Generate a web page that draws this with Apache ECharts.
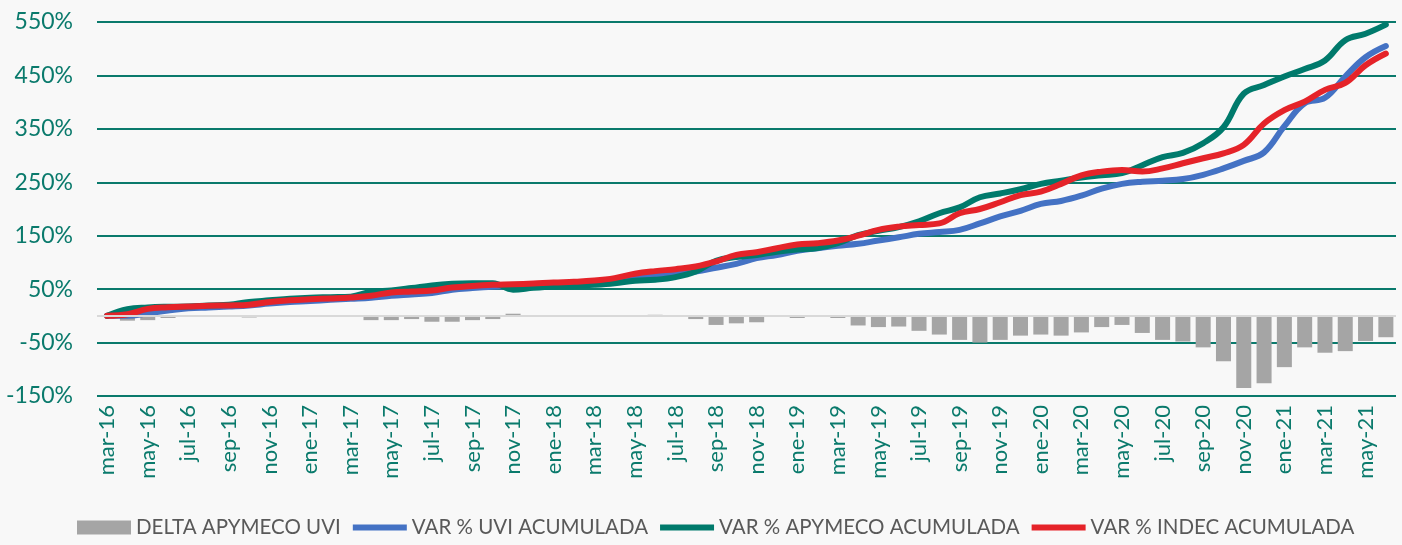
<!DOCTYPE html>
<html>
<head>
<meta charset="utf-8">
<script src="https://cdn.jsdelivr.net/npm/echarts@6/dist/echarts.min.js"></script>
<style>
  html, body { margin: 0; padding: 0; background: #f8f8f8; }
  #chart { width: 1402px; height: 545px; }
</style>
</head>
<body>
<div id="chart"></div>
<script>
// meses mar-16 .. jun-21
const months = ["ene", "feb", "mar", "abr", "may", "jun", "jul", "ago", "sep", "oct", "nov", "dic"];
const categories = [];
for (let y = 16; y <= 21; y++) {
  for (let m = 0; m < 12; m++) {
    if (y === 16 && m < 2) continue;
    if (y === 21 && m > 5) continue;
    categories.push(months[m] + "-" + y);
  }
}

const deltaApymecoUvi = [
  0, -9, -8, -4, 0, 0, -1, -3, -2, -2, -1, -1, 0, -8, -8, -6,
  -11, -11, -8, -6, 4, 1, 1, 0, 0, 0, 0, 2, 0, -6, -17, -14,
  -12, 0, -4, 0, -4, -18, -21, -20, -28, -35, -45, -50, -45, -37, -35, -37,
  -31, -21, -17, -32, -45, -48, -59, -85, -135, -126, -96, -59, -69, -66, -47, -40
];

const varUvi = [
  0, 0, 5, 10, 14, 15.7, 17.5, 19.5, 23, 25.7, 27.6, 30, 32, 34, 37.6, 40,
  42.6, 48.8, 52, 54.4, 55.7, 56.8, 58, 60, 61, 63.7, 69, 75, 80, 83, 90, 97.4,
  108, 114, 121.7, 126.7, 131, 134.8, 141, 147, 153.5, 157, 161, 173, 186, 196.5, 209.5, 215,
  225, 238, 247, 251, 253, 256, 264, 276, 290, 306, 355, 398, 408, 448, 484, 505
];

const varApymeco = [
  0, 12.5, 15.7, 17, 17.5, 19.5, 20.7, 26, 29, 32, 34, 35, 36, 45, 47.5, 52,
  57, 60, 61, 61, 49, 52.5, 55, 56, 58, 61, 65.6, 67.5, 72.5, 83, 103, 110,
  114, 120, 124, 127, 136, 151, 159, 166, 177, 192, 203, 222, 229, 237, 247, 253,
  259, 263, 267, 282, 297, 305, 323, 353, 416, 432, 448, 462, 478, 516, 528, 545
];

const varIndec = [
  0, 3, 13, 16, 17.5, 19, 19.6, 21, 26, 29, 31, 32.6, 34.5, 37.6, 43.7, 45.6,
  47.5, 53, 56, 58, 59, 60.5, 62.5, 63.7, 66, 70.6, 78.7, 83.7, 87.4, 92.3, 101.7, 114,
  119, 126.6, 133.5, 136, 141, 150, 161, 167, 170, 173, 192, 200, 212.7, 226, 232.5, 247,
  263, 270, 273, 270, 276, 285.6, 295, 304, 320, 360, 385, 401, 423, 436, 469, 491
];

const teal = "#0a7a6c";
const lineIcon = "path://M0,0h56v6h-56z";
const chart = echarts.init(document.getElementById("chart"));

function lineSeries(name, data, color) {
  return {
    name: name,
    type: "line",
    data: data,
    smooth: 0.4,
    showSymbol: false,
    symbol: "none",
    lineStyle: { width: 6, color: color, cap: "round", join: "round" },
    itemStyle: { color: color },
  };
}

chart.setOption({
  backgroundColor: "#f8f8f8",
  animation: false,
  textStyle: { fontFamily: "Lato" },
  grid: { left: 97, right: 6, top: 22, bottom: 149, containLabel: false },
  legend: {
    bottom: 2,
    left: 72,
    itemWidth: 54,
    itemHeight: 14,
    itemGap: 12,
    textStyle: { color: "#595959", fontSize: 20.5, fontFamily: "Lato" },
    data: [
      { name: "DELTA APYMECO UVI", icon: "rect" },
      { name: "VAR % UVI ACUMULADA", icon: lineIcon },
      { name: "VAR % APYMECO ACUMULADA", icon: lineIcon },
      { name: "VAR % INDEC ACUMULADA", icon: lineIcon },
    ],
  },
  xAxis: {
    type: "category",
    data: categories,
    boundaryGap: true,
    axisLine: { show: false, onZero: false },
    axisTick: { show: false },
    axisLabel: {
      interval: 1,
      rotate: 90,
      color: teal,
      fontSize: 22,
      margin: 9,
    },
  },
  yAxis: {
    type: "value",
    min: -150,
    max: 550,
    interval: 100,
    axisLine: { show: false },
    axisTick: { show: false },
    splitLine: { lineStyle: { color: teal, width: 2 } },
    axisLabel: {
      formatter: "{value}%",
      color: teal,
      fontSize: 23,
      margin: 24,
    },
  },
  series: [
    {
      name: "DELTA APYMECO UVI",
      type: "bar",
      data: deltaApymecoUvi,
      barCategoryGap: "26%",
      itemStyle: { color: "#a5a5a5" },
      markLine: {
        silent: true,
        symbol: "none",
        label: { show: false },
        lineStyle: { color: "#d9d9d9", width: 2, type: "solid" },
        data: [{ yAxis: 0 }],
      },
    },
    lineSeries("VAR % UVI ACUMULADA", varUvi, "#4472c4"),
    lineSeries("VAR % APYMECO ACUMULADA", varApymeco, "#007a6c"),
    lineSeries("VAR % INDEC ACUMULADA", varIndec, "#e52329"),
  ],
});
</script>
</body>
</html>
